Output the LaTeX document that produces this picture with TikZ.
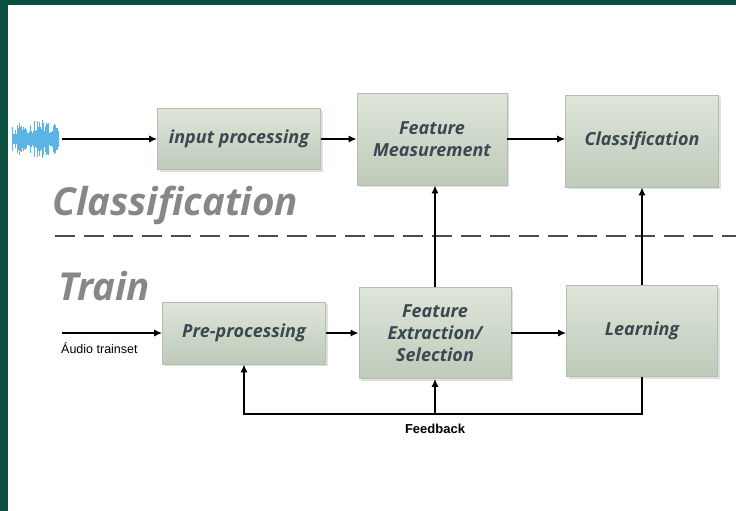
\documentclass[tikz,border=0pt]{standalone}
\usepackage{fontspec}
\setmainfont{Liberation Sans}
\newfontfamily\stagefont{Open Sans}
\usetikzlibrary{arrows.meta,shadows,positioning}

\definecolor{framegreen}{RGB}{10,80,64}
\definecolor{boxtop}{RGB}{222,230,218}
\definecolor{boxbot}{RGB}{190,202,186}
\definecolor{boxedge}{RGB}{178,190,175}
\definecolor{boxtext}{RGB}{58,72,80}
\definecolor{phasegrey}{RGB}{135,135,135}
\definecolor{wavecol}{RGB}{90,180,230}

\begin{document}
\begin{tikzpicture}[x=1pt,y=-1pt,
    stage/.style={rectangle,draw=boxedge,line width=0.6pt,
      top color=boxtop,bottom color=boxbot,
      drop shadow={opacity=0.25,shadow xshift=2pt,shadow yshift=-2pt},
      font=\stagefont\itshape\bfseries\fontsize{18}{22}\selectfont,
      text=boxtext,align=center,inner sep=0pt},
    phase/.style={font=\stagefont\itshape\bfseries\fontsize{38.5}{42}\selectfont,
      text=phasegrey,anchor=west},
    flow/.style={-{Latex[length=8pt,width=7pt]},line width=1.5pt}]
  \useasboundingbox (0,0) rectangle (736,511);
  \fill[framegreen] (0,0) rectangle (736,511);
  \fill[white] (8,5) rectangle (736,511);

  % audio wave
  \pgfmathsetseed{7}
  \foreach \i in {0,...,46}{
    \pgfmathsetmacro{\amp}{(5+17*rnd)*(1-abs(\i-23)/60)}
    \draw[wavecol,line width=0.9pt] (12+\i,139-\amp) -- (12+\i,139+\amp);
  }
  \coordinate (wave) at (62,139);

  % classification row
  \node[stage,minimum width=163pt,minimum height=61pt] (inproc) at (239,139) {input processing};
  \node[stage,minimum width=150pt,minimum height=92pt] (featmeas) at (432,139) {Feature\\Measurement};
  \node[stage,minimum width=153pt,minimum height=92pt] (classif) at (642,141) {Classification};

  \node[phase] (classlbl) at (49,205) {Classification};
  \draw[black!70,line width=2pt,dash pattern=on 20pt off 9pt] (55,236) -- (736,236);
  \node[phase] (trainlbl) at (55,286) {Train};

  % train row
  \coordinate (audio) at (62,333);
  \node[stage,minimum width=163pt,minimum height=62pt] (preproc) at (244,333) {Pre-processing};
  \node[stage,minimum width=152pt,minimum height=91pt] (featext) at (435,333) {Feature\\Extraction/\\Selection};
  \node[stage,minimum width=151pt,minimum height=91pt] (learn) at (642,331) {Learning};
  \node[anchor=west,font=\fontsize{12.5}{14}\selectfont,inner sep=0pt] (audiolbl) at (61,348) {Áudio trainset};

  \draw[flow] (wave) -- (inproc);
  \draw[flow] (inproc) -- (featmeas);
  \draw[flow] (featmeas.east) -- (classif.west |- featmeas.east);
  \draw[flow] (audio) -- (preproc);
  \draw[flow] (preproc) -- (featext);
  \draw[flow] (featext.east) -- (learn.west |- featext.east);
  \draw[flow] (featext.north) -- (featext.north |- featmeas.south);
  \draw[flow] (learn.north) -- (learn.north |- classif.south);

  % feedback loop
  \coordinate (fb) at (435,414);
  \draw[flow] (learn.south) |- (fb) -| (preproc.south);
  \draw[flow] (fb) -- (featext.south);
  \node[font=\bfseries\fontsize{13}{15}\selectfont] (fblbl) at (435,429) {Feedback};
\end{tikzpicture}
\end{document}
